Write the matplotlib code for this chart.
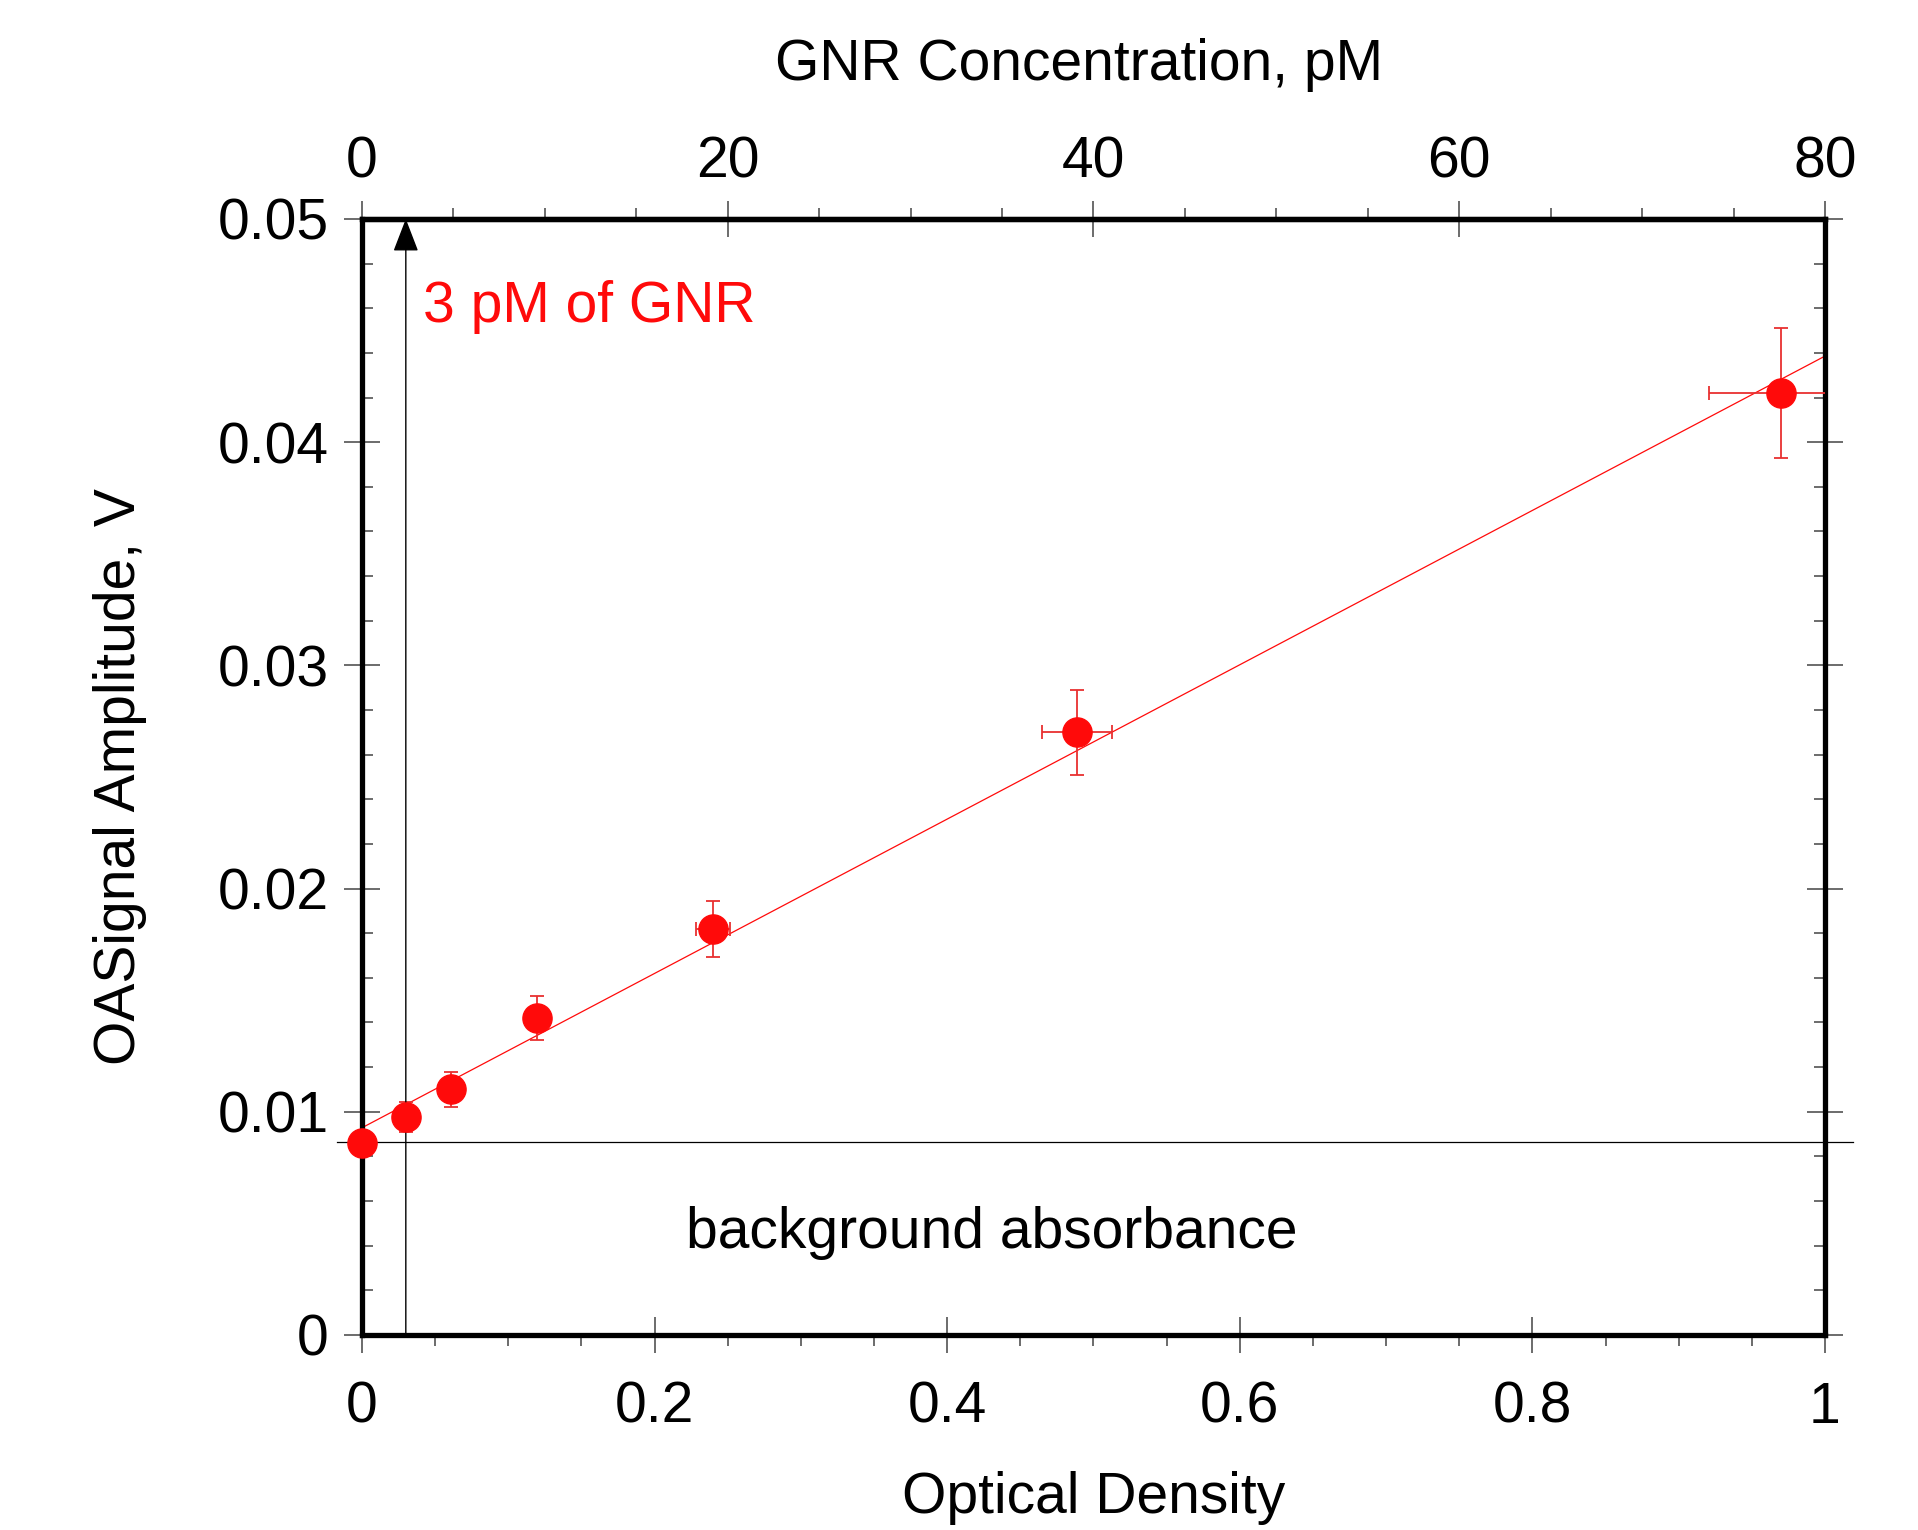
import numpy as np
import matplotlib
matplotlib.use("Agg")
import matplotlib.pyplot as plt

plt.rcParams['font.family'] = ['Liberation Sans', 'DejaVu Sans']

# optical density vs OA signal amplitude
od = [0.0, 0.030, 0.061, 0.120, 0.240, 0.489, 0.970]
od_err = [0.0, 0.0, 0.0, 0.0, 0.0117, 0.024, 0.049]
signal = [0.00862, 0.00978, 0.0110, 0.0142, 0.0182, 0.0270, 0.0422]
signal_err = [0.0, 0.00067, 0.00078, 0.001, 0.00125, 0.0019, 0.0029]

background = 0.00863   # background absorbance level
arrow_od = 0.030       # 3 pM of GNR
pm_per_od = 80.0       # top axis scale

red = '#ff0a0a'
fs = 41

fig = plt.figure(figsize=(19.18, 15.30), dpi=100)
ax = fig.add_axes([0.1887, 0.1275, 0.7628, 0.7294])

# linear fit through the points
slope, icpt = np.polyfit(od, signal, 1)
xf = np.array([0.0, 1.0])
ax.plot(xf, icpt + slope * xf, color=red, lw=0.9, zorder=2)

ax.errorbar(od, signal, xerr=od_err, yerr=signal_err, fmt='none',
            ecolor='#e83030', elinewidth=1.3, capsize=5, capthick=1.3, zorder=3)
ax.plot(od, signal, 'o', color=red, markersize=21, zorder=4, clip_on=False)

# background line and 3 pM marker
ax.plot([-0.017, 1.019], [background, background], color='black', lw=0.9,
        clip_on=False, zorder=1)
ax.annotate('', xy=(arrow_od, 0.05), xytext=(arrow_od, 0.0),
            arrowprops=dict(arrowstyle='-|>,head_length=0.52,head_width=0.2',
                            color='black', lw=1.0,
                            mutation_scale=40, shrinkA=0, shrinkB=0))

ax.text(0.0417, 0.0454, '3 pM of GNR', color=red, fontsize=fs, va='baseline')
ax.text(0.2215, 0.0039, 'background absorbance', color='black', fontsize=fs,
        va='baseline')

ax.set_xlim(0, 1)
ax.set_ylim(0, 0.05)
ax.set_xticks([0, 0.2, 0.4, 0.6, 0.8, 1.0])
ax.set_xticklabels(['0', '0.2', '0.4', '0.6', '0.8', '1'])
ax.set_xticks(np.arange(0, 1.0001, 0.05), minor=True)
ax.set_yticks([0, 0.01, 0.02, 0.03, 0.04, 0.05])
ax.set_yticklabels(['0', '0.01', '0.02', '0.03', '0.04', '0.05'])
ax.set_yticks(np.arange(0, 0.05001, 0.002), minor=True)

for s in ax.spines.values():
    s.set_linewidth(3.8)

ax.tick_params(axis='both', which='major', direction='inout', length=26,
               width=1.1, color='#444444', labelsize=fs)
ax.tick_params(axis='y', which='both', left=True, right=True)
ax.tick_params(axis='y', which='major', pad=11)
ax.tick_params(axis='x', which='major', pad=20)
ax.tick_params(axis='y', which='minor', direction='in', length=8, width=1.1,
               color='#444444')
ax.tick_params(axis='x', which='minor', direction='out', length=8, width=1.1,
               color='#444444')

ax.set_xlabel('Optical Density', fontsize=fs, labelpad=26)
ax.set_ylabel('OASignal Amplitude, V', fontsize=fs)
ax.yaxis.set_label_coords(-0.1466, 0.5)

top = ax.secondary_xaxis('top', functions=(lambda x: x * pm_per_od,
                                           lambda c: c / pm_per_od))
top.set_xticks([0, 20, 40, 60, 80])
top.set_xticks(np.arange(0, 80.1, 5), minor=True)
top.tick_params(axis='x', which='major', direction='inout', length=26,
                width=1.1, color='#444444', labelsize=fs, pad=8)
top.tick_params(axis='x', which='minor', direction='out', length=8,
                width=1.1, color='#444444')
top.spines['top'].set_linewidth(3.8)
top.set_xlabel('GNR Concentration, pM', fontsize=fs, labelpad=40)
top.xaxis.label.set_x(0.49)

fig.savefig('out.png', dpi=100)
